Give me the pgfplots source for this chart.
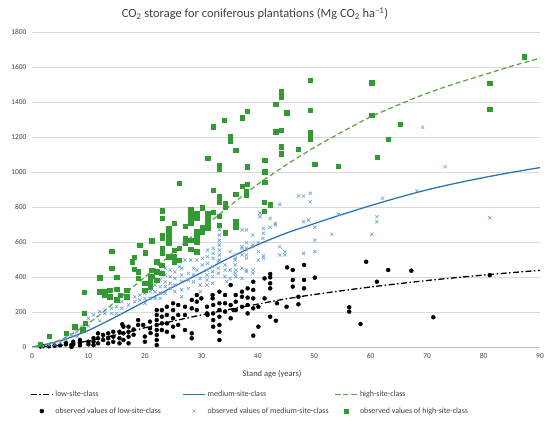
\documentclass[border=0pt]{standalone}
\usepackage{pgfplots}
\pgfplotsset{compat=1.18}
\usepackage{fontspec}
\setmainfont{Carlito}
\definecolor{medx}{RGB}{105,160,220}
\definecolor{highsq}{RGB}{51,153,51}
\definecolor{medline}{RGB}{46,117,182}
\definecolor{highline}{RGB}{95,168,70}
\definecolor{txt}{RGB}{64,64,64}
\begin{document}
\begin{tikzpicture}
\useasboundingbox (0,0) rectangle (550bp,424bp);
\begin{axis}[
  at={(32bp,77bp)}, anchor=south west,
  scale only axis, width=508bp, height=315bp,
  xmin=0, xmax=90, ymin=0, ymax=1800,
  xtick={0,10,...,90}, ytick={0,200,...,1800},
  axis lines*=left,
  x axis line style={draw=black!25, -},
  y axis line style={draw=none},
  major tick length=0pt,
  ymajorgrids, grid style={draw=black!15, line width=0.6bp},
  tick label style={font=\fontsize{7.5}{9}\selectfont, text=txt},
  /pgf/number format/assume math mode=true,
  /pgf/number format/1000 sep={},
  xticklabel style={yshift=-3bp},
  yticklabel style={xshift=-2bp},
  legend columns=3,
  legend cell align=left,
  legend style={at={(axis description cs:-0.004,-0.133)}, anchor=north west,
    draw=none, fill=none, font=\fontsize{8}{9.5}\selectfont, text=txt,
    row sep=5.5bp, inner sep=0pt},
  legend image code/.code={\draw[mark repeat=2,mark phase=2,#1] plot coordinates {(0bp,0bp) (11bp,0bp) (22bp,0bp)};},
]
% observed low
\addplot[only marks, mark=*, mark size=2bp, black, forget plot] coordinates {
(1.5,3)(2,5)(3,4)(4,8)(5,10)(6,15)(6,25)(7,0)(7,10)(7.3,30)(7.3,15)(8.5,40)(8.5,25)(8.5,10)(10,30)(10,15)(10.9,51)(10.9,30)(10.9,11)(11.7,78)(11.7,50)(11.7,21)(12.6,69)(12.6,40)(13.5,78)(13.5,50)(13.5,21)(14.4,87)(14.4,59)(14.4,30)(15.5,87)(15.5,50)(15.5,21)(16.2,116)(16.2,78)(16.2,40)(17.1,116)(17.1,87)(17.1,59)(17.1,21)(16,130)(18,100)(18,70)(18.8,154)(18.8,126)(19.7,126)(20,60)(20,30)(21,80)(20.9,107)(20.9,145)(22.1,211)(22.1,183)(22.1,154)(22.1,126)(22.1,97)(22.1,69)(22.1,40)(22.1,11)(23,211)(23,173)(23,135)(23,97)(23.9,230)(23.9,183)(23.9,135)(23.9,87)(25,250)(25,211)(25,164)(25,116)(25,59)(25.9,240)(25.9,183)(25.9,126)(27.1,230)(27.1,183)(27.1,97)(28.3,269)(28.3,221)(28.3,78)(28.3,50)(29.2,297)(29.2,259)(29.2,211)(30,278)(31,230)(31,192)(31.1,183)(32.1,240)(32.1,192)(32.1,154)(32.1,116)(32,297)(32,278)(33.2,316)(33.2,250)(33.2,211)(33.2,173)(33.2,126)(33.2,87)(33.2,40)(34.2,297)(34.2,250)(34.2,202)(35.2,354)(35.2,240)(35.2,164)(35.7,211)(36.1,297)(36.1,259)(36.1,211)(37.2,316)(37.2,287)(37.2,230)(38.2,335)(38.2,282)(38.2,240)(38.2,192)(39.2,373)(39.2,326)(39.2,278)(39.2,221)(39.2,65)(40.1,230)(40.1,116)(41.2,392)(41.2,278)(42.2,417)(42.2,398)(42.2,364)(42.2,335)(42.2,173)(43.4,250)(43.2,150)(45.1,230)(45.2,455)(46.2,440)(46.2,383)(46.2,345)(47.2,287)(47.2,244)(48.2,469)(48.2,383)(48.2,335)(50.1,396)(56.2,227)(56.2,202)(58.2,131)(59.2,487)(61.1,373)(63.1,440)(67.2,436)(71.1,170)(81.1,411)
};
% observed medium
\addplot[only marks, mark=x, mark size=2.3bp, medx, line width=0.6bp, forget plot] coordinates {
(1,2)(2,5)(3,10)(4,15)(5,25)(6,40)(7,69)(7.9,87)(8.8,116)(8,60)(9,90)(10,164)(10,120)(10.9,183)(12,202)(12,150)(12.9,211)(12.9,192)(14.1,221)(14.1,192)(15,230)(15,192)(15.9,259)(15.9,221)(17.1,278)(17.1,240)(18.2,287)(18.2,259)(19.1,297)(19.1,269)(20,307)(20,278)(20,250)(20.9,316)(20.9,278)(21.8,392)(21.8,354)(21.8,316)(21.8,278)(22.7,430)(22.7,383)(22.7,345)(22.7,307)(22.7,278)(23.6,450)(23.6,411)(23.6,373)(23.6,345)(23.6,307)(24.5,440)(24.5,402)(24.5,364)(24.5,335)(25.3,478)(25.3,430)(25.3,392)(25.3,354)(25.3,316)(26.1,459)(26.5,450)(26.5,411)(26.5,373)(26.5,326)(26.5,287)(27.1,497)(27.7,421)(27.7,383)(27.7,335)(28.1,497)(28.6,450)(28.6,411)(28.6,373)(29.2,497)(29.2,440)(29.8,392)(29.8,354)(29.8,316)(30.2,507)(30.2,469)(31.1,554)(31.1,516)(31.1,478)(31,440)(31,411)(31,383)(31,354)(32.1,564)(32.1,535)(32.1,507)(32,459)(32,430)(32,402)(32,364)(33.2,583)(33.2,554)(33.2,526)(33.2,497)(33,487)(33,450)(33,421)(33.2,610)(33.2,640)(33.2,670)(34.2,469)(34.2,440)(34.2,402)(34.5,373)(35.1,545)(35.1,440)(35.1,392)(36,526)(36,507)(36,497)(36,469)(36,421)(36.1,440)(36.1,402)(37.2,669)(37.2,573)(37.2,564)(37.2,526)(37.2,450)(37.2,392)(38,669)(38,596)(38,564)(38,554)(38,526)(38,507)(38,440)(38,430)(39.1,640)(39.1,573)(39.1,421)(39.2,583)(39.2,440)(40.1,596)(40.1,545)(40.1,497)(40.4,764)(40.4,745)(40.9,621)(41,678)(41,650)(41,520)(41,507)(42.2,735)(42.2,684)(43.1,707)(43.1,697)(43.9,815)(43.9,573)(43.9,526)(44.8,545)(44.8,526)(47.2,863)(48.1,863)(48.1,716)(48.1,535)(49,726)(49.3,830)(49.3,878)(50.1,684)(50.1,611)(50.1,545)(53.1,644)(54.3,758)(60.2,644)(61.1,745)(61.1,716)(62.1,850)(68.2,893)(69.2,1255)(73.2,1030)(81.1,739)
};
% observed high
\addplot[only marks, mark=square*, mark size=2.2bp, highsq, forget plot] coordinates {
(1.5,17)(3.1,63)(6.1,78)(7.6,116)(9.2,312)(9.2,192)(9.4,137)(9,100)(12,316)(12,395)(12.9,316)(12.9,297)(13.8,326)(13.8,287)(14.1,546)(14.1,450)(15,400)(15,330)(15,270)(15.6,297)(16.8,326)(16.8,287)(17.7,487)(18.1,513)(18.1,446)(18.8,430)(18.8,392)(19.1,583)(20,364)(20,326)(20.1,539)(20.9,402)(20.9,373)(20.9,345)(21.2,607)(21.2,440)(21.2,406)(22.1,487)(22.1,430)(22.1,383)(23,469)(23,421)(23.1,779)(23.1,735)(23.1,640)(23.1,621)(23.1,564)(23.1,535)(24.2,678)(24.2,650)(24.2,621)(24.2,596)(24.2,516)(25.2,707)(25.2,554)(25.2,516)(25.2,487)(26.1,935)(26.1,564)(26.1,497)(27.1,690)(27.1,620)(27.1,596)(28.1,787)(28.1,764)(28.1,735)(28.1,707)(28.1,611)(28.1,560)(29.2,764)(29.2,735)(29.2,659)(29.2,630)(29.2,602)(29.2,545)(30.2,796)(30.2,684)(30.2,659)(31.1,1078)(31.1,764)(31.1,735)(31.1,707)(31.1,678)(32.1,1259)(32.1,897)(32.1,770)(33.2,1040)(33.2,1015)(33.2,859)(33.2,830)(33.2,749)(33.2,697)(34.1,1295)(34.2,821)(34.2,802)(34.2,653)(35.1,1206)(35.1,1177)(36.1,1126)(36.1,874)(36.1,716)(36.1,684)(37.2,1310)(37.2,918)(38.1,1349)(38.1,1030)(38,887)(38,869)(38.1,931)(41.2,1069)(41.2,1002)(41.2,943)(41.1,827)(41.1,775)(42.2,813)(43.2,1389)(43.2,1230)(44.1,1459)(44.1,1427)(44.1,1240)(44.1,1145)(44.1,1105)(45.1,1339)(47.2,1131)(49.3,1526)(49.3,1354)(49.3,1225)(49.3,1190)(50.1,1046)(54.2,1034)(60.2,1510)(60.2,1326)(61.2,1084)(63.1,1187)(65.2,1274)(81.1,1507)(81.1,1358)(87.2,1659)
};
% fitted curves
\addplot[black, line width=1.3bp, dash pattern=on 6bp off 2.5bp on 1.5bp off 2.5bp, smooth] coordinates {
(0,0)(5,8)(10,35)(15,70)(20,110)(25,148)(30,183)(35,215)(40,245)(45,275)(50,300)(55,322)(60,343)(65,362)(70,380)(75,396)(80,411)(85,425)(90,438)
};
\addlegendentry{\makebox[125bp][l]{low-site-class}}
\addplot[medline, line width=1.3bp, smooth] coordinates {
(0,0)(5,35)(10,95)(15,175)(20,260)(25,343)(30,425)(35,510)(40,585)(45,650)(50,705)(55,758)(60,808)(65,855)(70,898)(75,935)(80,968)(85,998)(90,1025)
};
\addlegendentry{\makebox[125bp][l]{medium-site-class}}
\addplot[highline, line width=1.3bp, dash pattern=on 5bp off 3bp, smooth] coordinates {
(0,0)(5,40)(10,135)(15,265)(20,400)(25,540)(30,675)(35,805)(40,930)(45,1040)(50,1140)(55,1230)(60,1315)(65,1385)(70,1450)(75,1505)(80,1555)(85,1605)(90,1650)
};
\addlegendentry{\makebox[125bp][l]{high-site-class}}
\addlegendimage{only marks, mark=*, mark size=2bp, black}
\addlegendentry{\makebox[125bp][l]{observed values of low-site-class}}
\addlegendimage{only marks, mark=x, mark size=2.3bp, medx, line width=0.6bp}
\addlegendentry{\makebox[125bp][l]{observed values of medium-site-class}}
\addlegendimage{only marks, mark=square*, mark size=2.2bp, highsq}
\addlegendentry{\makebox[125bp][l]{observed values of high-site-class}}
\end{axis}
\node[font=\fontsize{12.5}{14}\selectfont, text=txt] at (255bp,410bp) {CO\textsubscript{2} storage for coniferous plantations (Mg CO\textsubscript{2} ha\textsuperscript{−1})};
\node[font=\fontsize{8.5}{10}\selectfont, text=txt] at (272bp,50bp) {Stand age (years)};
\end{tikzpicture}
\end{document}
